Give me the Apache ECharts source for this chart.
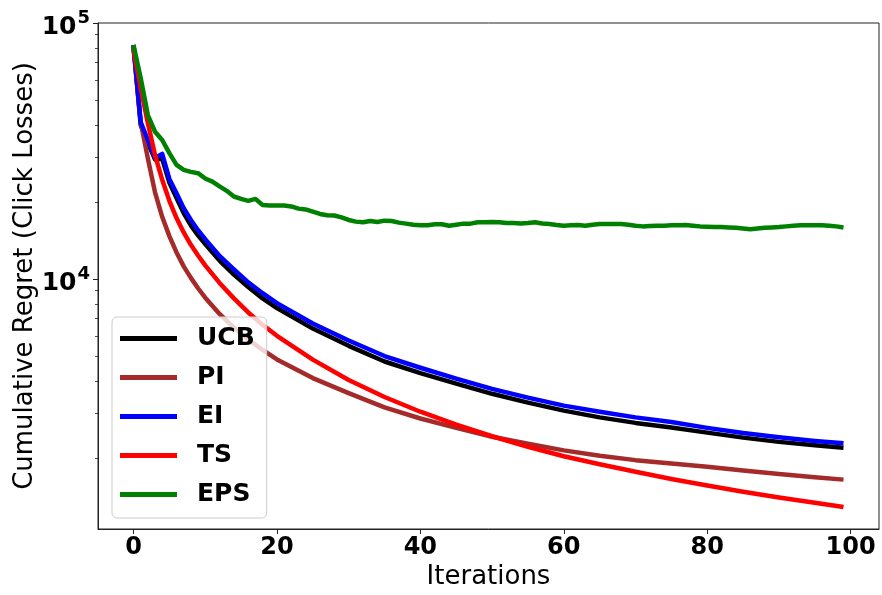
<!DOCTYPE html>
<html>
<head>
<meta charset="utf-8">
<script src="https://cdn.jsdelivr.net/npm/echarts@6/dist/echarts.min.js"></script>
<style>
  html, body { margin: 0; padding: 0; background: #fff; }
  #chart { width: 882px; height: 595px; }
</style>
</head>
<body>
<div id="chart"></div>
<script>
// iterations where the smooth curves were read
var iters = [0, 1, 2, 3, 4, 5, 6, 7, 8, 9, 10, 12, 14, 16, 18, 20, 25, 30, 35, 40, 45, 50, 55, 60, 65, 70, 75, 80, 85, 90, 95, 99];
var ucb = [82000, 40000, 34000, 29300, 29500, 23800, 20700, 18100, 16200, 14800, 13700, 11800, 10400, 9300, 8400, 7700, 6400, 5480, 4760, 4290, 3900, 3560, 3290, 3060, 2880, 2740, 2630, 2510, 2400, 2310, 2240, 2190];
var pi = [80000, 41000, 29600, 21800, 17500, 14700, 12700, 11200, 10100, 9200, 8450, 7300, 6450, 5800, 5280, 4850, 4100, 3580, 3150, 2850, 2620, 2420, 2270, 2140, 2040, 1960, 1900, 1845, 1785, 1730, 1680, 1645];
var ei = [82000, 41000, 34900, 29700, 30800, 24600, 21600, 18900, 17000, 15500, 14300, 12300, 10900, 9700, 8800, 8050, 6700, 5750, 5000, 4500, 4080, 3720, 3440, 3200, 3030, 2880, 2760, 2620, 2500, 2410, 2330, 2280];
var ts = [78500, 55700, 40700, 30500, 24400, 20200, 17300, 15200, 13600, 12350, 11300, 9650, 8400, 7400, 6620, 6000, 4840, 4030, 3460, 3030, 2700, 2430, 2210, 2030, 1890, 1765, 1655, 1560, 1475, 1400, 1335, 1285];
// EPS, one value per iteration 0..99
var eps = [82000, 61000, 43700, 37600, 34900, 31000, 27900, 26700, 26200, 25900,
           24700, 24000, 23000, 22100, 21000, 20550, 20200, 20550, 19450, 19350,
           19350, 19350, 19200, 18830, 18700, 18330, 17950, 17730, 17700, 17400,
           17000, 16750, 16650, 16850, 16700, 16900, 16850, 16600, 16450, 16300,
           16220, 16220, 16360, 16360, 16150, 16300, 16450, 16450, 16650, 16650,
           16700, 16650, 16530, 16530, 16480, 16530, 16650, 16480, 16400, 16250,
           16150, 16200, 16250, 16150, 16300, 16400, 16400, 16400, 16400, 16300,
           16150, 16050, 16100, 16150, 16150, 16200, 16200, 16250, 16150, 16050,
           16000, 15950, 15950, 15900, 15850, 15750, 15650, 15750, 15850, 15900,
           15950, 16050, 16150, 16200, 16200, 16200, 16200, 16150, 16050, 15900];

var xTicks = [0, 20, 40, 60, 80, 100];
var yMajorTicks = [10000, 100000];
var yMinorTicks = [2000, 3000, 4000, 5000, 6000, 7000, 8000, 9000, 20000, 30000, 40000, 50000, 60000, 70000, 80000, 90000];

function pairs(xs, ys) {
    return ys.map(function (v, i) { return [xs[i], v]; });
}
function idxPairs(ys) {
    return ys.map(function (v, i) { return [i, v]; });
}

var chart = echarts.init(document.getElementById('chart'));
var FONT = 'DejaVu Sans';

function lineSeries(name, color, data) {
    return {
        name: name,
        type: 'line',
        data: data,
        showSymbol: false,
        symbol: 'none',
        smooth: false,
        lineStyle: { color: color, width: 4.5, join: 'round' },
        itemStyle: { color: color }
    };
}

var option = {
    animation: false,
    backgroundColor: '#fff',
    grid: {
        left: 98, right: 3, top: 23, bottom: 66,
        containLabel: false,
        outerBoundsMode: 'none',
        show: true, borderColor: '#222', borderWidth: 1
    },
    legend: {
        orient: 'vertical',
        left: 112, top: 317,
        icon: 'rect',
        itemWidth: 57, itemHeight: 5,
        itemGap: 14,
        padding: [9, 12, 11, 8],
        backgroundColor: 'rgba(255,255,255,0.8)',
        borderColor: '#cccccc', borderWidth: 1, borderRadius: 5,
        textStyle: {
            fontFamily: FONT, fontSize: 25, fontWeight: 'bold', color: '#000',
            lineHeight: 24, padding: [0, 0, 0, 15]
        },
        data: ['UCB', 'PI', 'EI', 'TS', 'EPS']
    },
    xAxis: {
        type: 'value',
        min: -4.95, max: 103.95,
        name: 'Iterations',
        nameLocation: 'middle',
        nameGap: 35,
        nameMoveOverlap: false,
        nameTextStyle: { fontFamily: FONT, fontSize: 26, color: '#000' },
        axisLine: { show: true, onZero: false, lineStyle: { color: '#222', width: 1 } },
        axisTick: { show: true, customValues: xTicks, length: 5, inside: false, lineStyle: { color: '#222', width: 1 } },
        axisLabel: {
            customValues: xTicks, margin: 7,
            fontFamily: FONT, fontSize: 24, fontWeight: 'bold', color: '#000'
        },
        splitLine: { show: false }
    },
    yAxis: [{
        type: 'log',
        min: 1055, max: 100000,
        name: 'Cumulative Regret (Click Losses)',
        nameLocation: 'middle',
        nameGap: 60,
        nameMoveOverlap: false,
        nameTextStyle: { fontFamily: FONT, fontSize: 26, color: '#000' },
        axisLine: { show: true, onZero: false, lineStyle: { color: '#222', width: 1 } },
        axisTick: { show: true, customValues: yMajorTicks, length: 5, lineStyle: { color: '#222', width: 1 } },
        axisLabel: {
            customValues: yMajorTicks, margin: 8,
            formatter: function (v) {
                return '{b|10}{s|' + Math.round(Math.log10(v)) + '}';
            },
            rich: {
                b: { fontFamily: FONT, fontSize: 25, fontWeight: 'bold', color: '#000', padding: [9, 0, 0, 0] },
                s: { fontFamily: FONT, fontSize: 18, fontWeight: 'bold', color: '#000', padding: [0, 0, 10, 1] }
            }
        },
        splitLine: { show: false }
    }, {
        type: 'log',
        min: 1055, max: 100000,
        position: 'left',
        axisLine: { show: false, onZero: false },
        axisTick: { show: true, customValues: yMinorTicks, length: 3, lineStyle: { color: '#222', width: 0.8 } },
        axisLabel: { show: false },
        splitLine: { show: false }
    }],
    series: [
        lineSeries('UCB', '#000000', pairs(iters, ucb)),
        lineSeries('PI', '#a52a2a', pairs(iters, pi)),
        lineSeries('EI', '#0000ff', pairs(iters, ei)),
        lineSeries('TS', '#ff0000', pairs(iters, ts)),
        lineSeries('EPS', '#008000', idxPairs(eps))
    ]
};
chart.setOption(option);
</script>
</body>
</html>
